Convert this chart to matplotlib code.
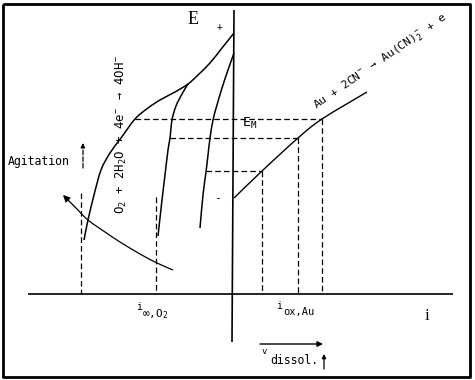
import matplotlib as mpl
import matplotlib.pyplot as plt
from matplotlib.path import Path
from matplotlib.patches import PathPatch

mpl.rcParams['mathtext.fontset'] = 'custom'
mpl.rcParams['mathtext.rm'] = 'DejaVu Sans Mono'
mpl.rcParams['mathtext.it'] = 'DejaVu Sans Mono'

MONO = 'DejaVu Sans Mono'
SERIF = 'Liberation Serif'

# diagram drawn in pixel-like units (x right, y down)
frame_x = [3, 470, 470, 3, 3]
frame_y = [4, 4, 377, 377, 4]

e_axis_x = [234, 232]
e_axis_y = [10, 342]
i_axis_x = [28, 453]
i_axis_y = [294, 294]

# O2 reduction, highest agitation (outer curve)
o2_outer_x = [234, 222, 210, 198, 188, 175, 160, 148, 135, 121, 110, 101, 94, 88, 84]
o2_outer_y = [33, 48, 63, 75, 84, 92, 100, 108, 119, 138, 153, 170, 195, 220, 240]
# middle curve, branching from the outer one
o2_mid_x = [188, 182, 176, 172, 170, 168, 165, 162, 158]
o2_mid_y = [84, 94, 106, 120, 138, 150, 175, 200, 236]
# lowest agitation
o2_low_x = [234, 228, 222, 217, 213, 210, 208, 206, 203, 200]
o2_low_y = [53, 70, 88, 105, 120, 138, 155, 172, 195, 228]

# Au oxidation line
au_x = [234, 262, 298, 322, 367]
au_y = [198, 171, 138, 119, 92]

# crossing points -> dashed guides
cross_x = [322, 298, 262]
cross_y = [119, 138, 171]
cross_left = [135, 170, 206]
limit_x = [81, 156]
limit_top = [193, 197]

# agitation arrow
agit_x = [173, 157, 140, 120, 105, 88, 75, 63]
agit_y = [270, 263, 254, 242, 232, 220, 207, 195]


def smooth(ax, xs, ys, lw):
    # catmull-rom through the read points, drawn as bezier segments
    pts = list(zip(xs, ys))
    verts = [pts[0]]
    codes = [Path.MOVETO]
    n = len(pts)
    for i in range(n - 1):
        p0 = pts[max(i - 1, 0)]
        p1 = pts[i]
        p2 = pts[i + 1]
        p3 = pts[min(i + 2, n - 1)]
        c1 = (p1[0] + (p2[0] - p0[0]) / 6, p1[1] + (p2[1] - p0[1]) / 6)
        c2 = (p2[0] - (p3[0] - p1[0]) / 6, p2[1] - (p3[1] - p1[1]) / 6)
        verts += [c1, c2, p2]
        codes += [Path.CURVE4] * 3
    ax.add_patch(PathPatch(Path(verts, codes), fill=False, lw=lw, ec='black',
                           capstyle='butt'))


fig = plt.figure(figsize=(4.75, 3.8), dpi=100, facecolor='white')
ax = fig.add_axes([0, 0, 1, 1])
ax.set_xlim(0, 475)
ax.set_ylim(380, 0)
ax.axis('off')

k = dict(color='black', solid_capstyle='butt')
ax.plot(frame_x, frame_y, lw=2.0, **k)
ax.plot(e_axis_x, e_axis_y, lw=1.2, **k)
ax.plot(i_axis_x, i_axis_y, lw=1.2, **k)
smooth(ax, o2_outer_x, o2_outer_y, 1.1)
smooth(ax, o2_mid_x, o2_mid_y, 1.1)
smooth(ax, o2_low_x, o2_low_y, 1.1)
smooth(ax, au_x, au_y, 1.0)

dash = dict(color='black', lw=0.9, dashes=(4.5, 2.5))
for x, y, xl in zip(cross_x, cross_y, cross_left):
    ax.plot([xl, x], [y, y], **dash)
    ax.plot([x, x], [y, i_axis_y[0]], **dash)
for x, y in zip(limit_x, limit_top):
    ax.plot([x, x], [y, i_axis_y[0]], **dash)

smooth(ax, agit_x[:-1], agit_y[:-1], 0.9)
ax.annotate('', xy=(agit_x[-1], agit_y[-1]), xytext=(agit_x[-2], agit_y[-2]),
            arrowprops=dict(arrowstyle='-|>', color='black', lw=0.9,
                            mutation_scale=10, shrinkA=0, shrinkB=0))

# small arrows
ax.annotate('', xy=(83, 143), xytext=(83, 168),
            arrowprops=dict(arrowstyle='-|>', color='black', lw=0.9, ls='--',
                            mutation_scale=6, shrinkA=0, shrinkB=0))
ax.annotate('', xy=(323, 344), xytext=(260, 344),
            arrowprops=dict(arrowstyle='-|>', color='black', lw=1.0,
                            mutation_scale=8, shrinkA=0, shrinkB=0))
ax.annotate('', xy=(324, 354), xytext=(324, 369),
            arrowprops=dict(arrowstyle='-|>', color='black', lw=0.9,
                            mutation_scale=6, shrinkA=0, shrinkB=0))

# labels
ax.text(193, 19, 'E', family=SERIF, fontsize=13, ha='center', va='center')
ax.text(220, 27, '+', family=MONO, fontsize=7, ha='center', va='center')
ax.text(217, 198, '-', family=MONO, fontsize=8, ha='center', va='center')
ax.text(427, 316, 'i', family=SERIF, fontsize=12, ha='center', va='center')
ax.text(8, 162, 'Agitation', family=MONO, fontsize=8.3, ha='left', va='center')
ax.text(242, 123, 'E$_M$', family=MONO, fontsize=9.5, ha='left', va='center')

ax.text(121, 134, 'O$_2$ + 2H$_2$O + 4e$^-$ → 4OH$^-$', family=MONO, fontsize=8.8,
        rotation=90, ha='center', va='center')
ax.text(316, 109, 'Au + 2CN$^-$ → Au(CN)$_2^-$ + e', family=MONO, fontsize=8.2,
        rotation=34.6, rotation_mode='anchor', ha='left', va='baseline')

ax.text(139, 307, 'i', family=MONO, fontsize=7, ha='center', va='center')
ax.text(142, 314, '∞,O$_2$', family=MONO, fontsize=8, ha='left', va='center')
ax.text(279, 306, 'i', family=MONO, fontsize=7, ha='center', va='center')
ax.text(283, 312, 'ox,Au', family=MONO, fontsize=7.5, ha='left', va='center')
ax.text(264, 352, 'v', family=MONO, fontsize=6.5, ha='center', va='center')
ax.text(270, 361, 'dissol.', family=MONO, fontsize=8.3, ha='left', va='center')

plt.savefig('out.png', dpi=100, facecolor='white')
